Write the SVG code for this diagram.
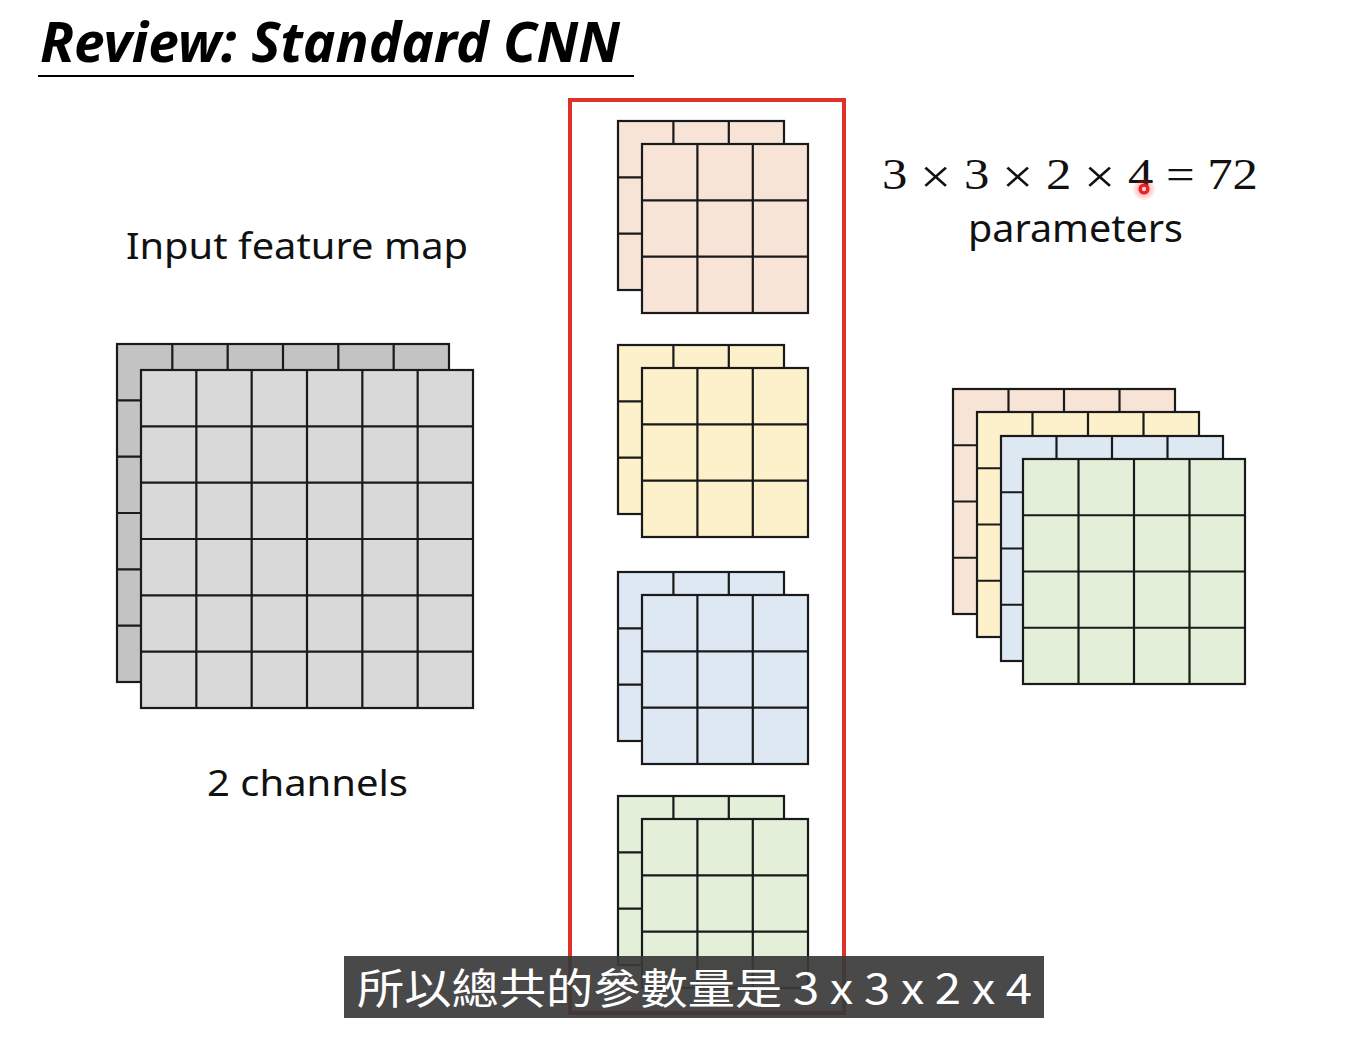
<svg xmlns="http://www.w3.org/2000/svg" xmlns:xlink="http://www.w3.org/1999/xlink" width="1370" height="1038" viewBox="0 0 1370 1038">
<style>
.grid{stroke:#1a1a1a;stroke-width:2.2}
.gray-b{fill:#c3c3c3}
.gray-f{fill:#d9d9d9}
.peach{fill:#f7e4d6}
.yellow{fill:#fdf1cb}
.blue{fill:#dde8f3}
.green{fill:#e3efd9}
.lbl{font-family:"Noto Sans","Open Sans","Liberation Sans",sans-serif;fill:#111}
.math{font-family:"Liberation Serif","DejaVu Serif",serif;fill:#111}
.times{font-size:48px}
</style>
<defs>
<g id="g6"><rect width="332" height="338"/><path fill="none" d="M55.33 0V338M110.67 0V338M166 0V338M221.33 0V338M276.67 0V338M0 56.33H332M0 112.67H332M0 169H332M0 225.33H332M0 281.67H332"/></g>
<g id="g3"><rect width="166" height="169"/><path fill="none" d="M55.4 0V169M110.8 0V169M0 56.3H166M0 112.7H166"/></g>
<g id="g4"><rect width="222" height="225"/><path fill="none" d="M55.5 0V225M111 0V225M166.5 0V225M0 56.25H222M0 112.5H222M0 168.75H222"/></g>
<radialGradient id="glow"><stop offset="0" stop-color="#ff3030" stop-opacity="0.6"/><stop offset="1" stop-color="#ff3030" stop-opacity="0"/></radialGradient>
</defs>
<rect width="1370" height="1038" fill="#ffffff"/>

<g id="title">
<text x="40" y="62" font-family="'Noto Sans','Open Sans',sans-serif" font-weight="bold" font-style="italic" font-size="56" textLength="580" lengthAdjust="spacingAndGlyphs" fill="#000">Review: Standard CNN</text>
<line x1="38" y1="76" x2="634" y2="76" stroke="#000" stroke-width="2"/>
</g>

<g id="input-label"><text class="lbl" x="126" y="259" font-size="36" textLength="342" lengthAdjust="spacingAndGlyphs">Input feature map</text></g>

<g id="input-map">
<use xlink:href="#g6" x="117" y="344" class="grid gray-b"/>
<use xlink:href="#g6" x="141" y="370" class="grid gray-f"/>
</g>

<g id="channels-label"><text class="lbl" x="207" y="796" font-size="36" textLength="201" lengthAdjust="spacingAndGlyphs">2 channels</text></g>

<g id="filter-1">
<use xlink:href="#g3" x="618" y="121" class="grid peach"/>
<use xlink:href="#g3" x="642" y="144" class="grid peach"/>
</g>
<g id="filter-2">
<use xlink:href="#g3" x="618" y="345" class="grid yellow"/>
<use xlink:href="#g3" x="642" y="368" class="grid yellow"/>
</g>
<g id="filter-3">
<use xlink:href="#g3" x="618" y="572" class="grid blue"/>
<use xlink:href="#g3" x="642" y="595" class="grid blue"/>
</g>
<g id="filter-4">
<use xlink:href="#g3" x="618" y="796" class="grid green"/>
<use xlink:href="#g3" x="642" y="819" class="grid green"/>
</g>

<g id="filter-box"><rect x="570" y="100" width="274" height="913" fill="none" stroke="#e0302a" stroke-width="4"/></g>

<g id="equation">
<text class="math" x="882" y="189" font-size="44" textLength="376" lengthAdjust="spacingAndGlyphs">3 <tspan class="times" dy="4">×</tspan><tspan dy="-4"> 3 </tspan><tspan class="times" dy="4">×</tspan><tspan dy="-4"> 2 </tspan><tspan class="times" dy="4">×</tspan><tspan dy="-4"> 4 = 72</tspan></text>
<text class="lbl" x="968" y="242" font-size="38" textLength="215" lengthAdjust="spacingAndGlyphs">parameters</text>
</g>

<g id="pointer">
<circle cx="1144" cy="189" r="12" fill="url(#glow)"/>
<circle cx="1144" cy="189" r="5.5" fill="#e52222"/>
<circle cx="1144" cy="189" r="2.2" fill="#ffd0d0"/>
</g>

<g id="output-map">
<use xlink:href="#g4" x="953" y="389" class="grid peach"/>
<use xlink:href="#g4" x="977" y="412" class="grid yellow"/>
<use xlink:href="#g4" x="1001" y="436" class="grid blue"/>
<use xlink:href="#g4" x="1023" y="459" class="grid green"/>
</g>

<g id="subtitle">
<rect x="344" y="956" width="700" height="62" fill="#3a3a3a" fill-opacity="0.92"/>
<text x="357" y="1004" font-family="'Noto Sans CJK TC','Noto Sans CJK SC',sans-serif" font-size="42" fill="#ffffff" textLength="675" lengthAdjust="spacingAndGlyphs">所以總共的參數量是 3 x 3 x 2 x 4</text>
</g>
</svg>
